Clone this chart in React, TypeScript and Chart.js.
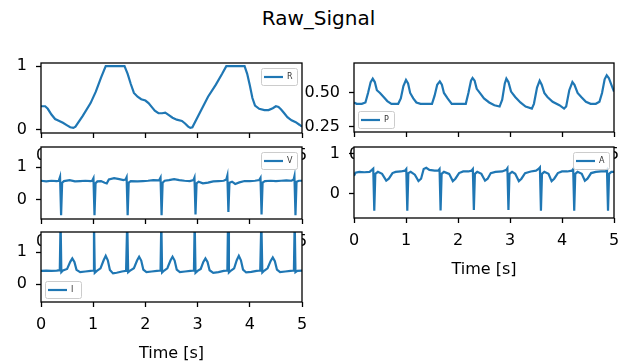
import React, { useEffect, useRef } from 'react';
import { Chart, registerables } from 'chart.js';

Chart.register(...registerables);
Chart.defaults.font.family = '"DejaVu Sans", sans-serif';

const FIG_W = 628;
const FIG_H = 363;
const LINE_COLOR = '#1f77b4';

const titleText = 'Raw_Signal';
const xLabel = 'Time [s]';
const xTicks = [0, 1, 2, 3, 4, 5];

// R signal
const rTime = [0.0, 0.08, 0.13, 0.2, 0.27, 0.35, 0.42, 0.5, 0.56, 0.62, 0.66, 0.8, 0.95, 1.05, 1.15, 1.24, 1.6, 1.66, 1.72, 1.78, 1.85, 1.92, 2.0, 2.06, 2.12, 2.18, 2.25, 2.32, 2.38, 2.45, 2.52, 2.6, 2.7, 2.76, 2.82, 2.86, 2.9, 3.05, 3.2, 3.35, 3.47, 3.55, 3.9, 3.95, 4.0, 4.05, 4.1, 4.18, 4.28, 4.36, 4.44, 4.5, 4.55, 4.6, 4.66, 4.72, 4.8, 4.88, 4.95, 5.0];
const rValue = [0.37, 0.37, 0.33, 0.24, 0.17, 0.14, 0.11, 0.07, 0.04, 0.03, 0.05, 0.22, 0.42, 0.6, 0.82, 1.0, 1.0, 0.88, 0.72, 0.58, 0.52, 0.48, 0.46, 0.42, 0.36, 0.3, 0.26, 0.26, 0.27, 0.23, 0.19, 0.16, 0.14, 0.1, 0.05, 0.03, 0.04, 0.28, 0.52, 0.71, 0.88, 1.0, 1.0, 0.88, 0.7, 0.5, 0.38, 0.33, 0.31, 0.31, 0.34, 0.37, 0.36, 0.32, 0.26, 0.2, 0.15, 0.12, 0.08, 0.05];

// P signal
const pTime = [0.0, 0.05, 0.15, 0.22, 0.27, 0.32, 0.36, 0.4, 0.44, 0.5, 0.57, 0.64, 0.72, 0.85, 0.9, 0.95, 1.0, 1.04, 1.08, 1.14, 1.2, 1.28, 1.5, 1.55, 1.6, 1.65, 1.69, 1.73, 1.8, 1.88, 2.0, 2.15, 2.2, 2.25, 2.28, 2.32, 2.36, 2.42, 2.5, 2.6, 2.7, 2.8, 2.85, 2.9, 2.93, 2.97, 3.02, 3.1, 3.2, 3.3, 3.42, 3.46, 3.52, 3.57, 3.61, 3.66, 3.72, 3.82, 3.95, 4.04, 4.08, 4.14, 4.2, 4.24, 4.3, 4.37, 4.46, 4.55, 4.65, 4.72, 4.77, 4.82, 4.86, 4.9, 4.95, 5.0];
const pValue = [0.43, 0.42, 0.42, 0.43, 0.5, 0.58, 0.605, 0.58, 0.52, 0.5, 0.47, 0.44, 0.42, 0.42, 0.46, 0.55, 0.595, 0.57, 0.5, 0.46, 0.43, 0.42, 0.42, 0.48, 0.56, 0.585, 0.56, 0.5, 0.46, 0.42, 0.42, 0.42, 0.5, 0.59, 0.61, 0.59, 0.53, 0.5, 0.46, 0.43, 0.41, 0.4, 0.45, 0.57, 0.605, 0.58, 0.51, 0.47, 0.43, 0.4, 0.385, 0.42, 0.54, 0.59, 0.56, 0.5, 0.47, 0.435, 0.41, 0.385, 0.4, 0.52, 0.58, 0.56, 0.5, 0.47, 0.435, 0.42, 0.42, 0.435, 0.5, 0.6, 0.63, 0.61, 0.56, 0.51];

// V signal
const vTime = [0.0, 0.1, 0.2, 0.3, 0.34, 0.365, 0.385, 0.405, 0.44, 0.55, 0.65, 0.75, 0.85, 0.95, 0.98, 1.005, 1.025, 1.045, 1.08, 1.15, 1.22, 1.26, 1.3, 1.4, 1.5, 1.58, 1.62, 1.64, 1.66, 1.68, 1.72, 1.85, 1.95, 2.05, 2.15, 2.26, 2.29, 2.31, 2.33, 2.37, 2.45, 2.55, 2.65, 2.75, 2.85, 2.92, 2.94, 2.96, 2.98, 3.02, 3.1, 3.2, 3.3, 3.4, 3.5, 3.55, 3.57, 3.59, 3.61, 3.66, 3.72, 3.8, 3.9, 4.0, 4.1, 4.18, 4.205, 4.225, 4.245, 4.29, 4.4, 4.5, 4.6, 4.7, 4.8, 4.84, 4.855, 4.875, 4.895, 4.94, 5.0];
const vValue = [0.58, 0.56, 0.58, 0.57, 0.58, 0.7, -0.48, 0.52, 0.57, 0.6, 0.56, 0.57, 0.58, 0.57, 0.58, 0.66, -0.48, 0.5, 0.56, 0.57, 0.52, 0.5, 0.62, 0.66, 0.63, 0.6, 0.62, 0.69, -0.48, 0.52, 0.57, 0.56, 0.57, 0.58, 0.6, 0.59, 0.68, -0.48, 0.52, 0.58, 0.6, 0.63, 0.6, 0.58, 0.57, 0.6, 0.68, -0.46, 0.5, 0.55, 0.5, 0.52, 0.56, 0.57, 0.58, 0.62, 0.74, -0.38, 0.52, 0.55, 0.48, 0.53, 0.57, 0.57, 0.58, 0.6, 0.67, -0.46, 0.52, 0.57, 0.58, 0.57, 0.58, 0.59, 0.58, 0.62, 0.72, -0.48, 0.55, 0.58, 0.58];

// A signal
const aTime = [0.0, 0.03, 0.1, 0.2, 0.3, 0.345, 0.37, 0.39, 0.41, 0.46, 0.54, 0.62, 0.67, 0.74, 0.8, 0.9, 0.98, 1.005, 1.025, 1.045, 1.09, 1.17, 1.24, 1.29, 1.34, 1.39, 1.45, 1.55, 1.62, 1.645, 1.665, 1.685, 1.73, 1.83, 1.9, 1.95, 2.02, 2.1, 2.2, 2.26, 2.285, 2.305, 2.325, 2.37, 2.45, 2.52, 2.57, 2.63, 2.72, 2.85, 2.93, 2.95, 2.97, 2.99, 3.04, 3.1, 3.17, 3.22, 3.29, 3.4, 3.5, 3.555, 3.575, 3.595, 3.615, 3.66, 3.74, 3.8, 3.85, 3.92, 4.0, 4.1, 4.19, 4.215, 4.235, 4.255, 4.3, 4.38, 4.44, 4.49, 4.56, 4.65, 4.75, 4.84, 4.865, 4.885, 4.905, 4.95, 5.0];
const aValue = [0.45, 0.53, 0.55, 0.54, 0.55, 0.6, 0.63, -0.42, 0.5, 0.55, 0.5, 0.33, 0.38, 0.52, 0.55, 0.56, 0.58, 0.62, -0.42, 0.52, 0.55, 0.48, 0.32, 0.38, 0.62, 0.65, 0.6, 0.58, 0.58, 0.62, -0.41, 0.5, 0.55, 0.5, 0.32, 0.38, 0.52, 0.56, 0.56, 0.58, 0.62, -0.4, 0.5, 0.55, 0.5, 0.33, 0.38, 0.52, 0.55, 0.56, 0.6, 0.64, -0.4, 0.5, 0.55, 0.5, 0.32, 0.38, 0.52, 0.56, 0.58, 0.63, 0.66, -0.42, 0.5, 0.55, 0.5, 0.32, 0.38, 0.52, 0.56, 0.56, 0.58, 0.62, -0.42, 0.5, 0.55, 0.5, 0.33, 0.38, 0.52, 0.55, 0.56, 0.56, 0.6, -0.42, 0.5, 0.55, 0.55];

// I signal
const iTime = [0.0, 0.1, 0.2, 0.3, 0.36, 0.375, 0.39, 0.42, 0.5, 0.56, 0.6, 0.64, 0.68, 0.75, 0.85, 0.95, 1.0, 1.015, 1.03, 1.07, 1.14, 1.2, 1.24, 1.28, 1.32, 1.38, 1.45, 1.55, 1.63, 1.652, 1.67, 1.7, 1.78, 1.84, 1.88, 1.92, 1.96, 2.02, 2.12, 2.22, 2.29, 2.305, 2.32, 2.36, 2.42, 2.48, 2.52, 2.56, 2.6, 2.66, 2.76, 2.86, 2.93, 2.944, 2.96, 3.0, 3.06, 3.11, 3.15, 3.19, 3.23, 3.3, 3.4, 3.5, 3.57, 3.583, 3.6, 3.64, 3.7, 3.75, 3.79, 3.83, 3.87, 3.93, 4.03, 4.13, 4.2, 4.221, 4.24, 4.28, 4.34, 4.4, 4.44, 4.48, 4.52, 4.58, 4.68, 4.78, 4.845, 4.86, 4.875, 4.91, 5.0];
const iValue = [0.42, 0.43, 0.42, 0.43, 0.44, 2.0, 0.38, 0.43, 0.48, 0.7, 0.81, 0.7, 0.45, 0.38, 0.4, 0.42, 0.43, 2.0, 0.36, 0.42, 0.5, 0.75, 0.89, 0.75, 0.45, 0.34, 0.36, 0.4, 0.42, 2.0, 0.38, 0.42, 0.5, 0.74, 0.86, 0.74, 0.46, 0.38, 0.4, 0.42, 0.43, 2.0, 0.37, 0.43, 0.5, 0.74, 0.86, 0.74, 0.46, 0.38, 0.4, 0.42, 0.43, 2.0, 0.36, 0.42, 0.48, 0.7, 0.81, 0.7, 0.44, 0.36, 0.38, 0.42, 0.43, 2.0, 0.37, 0.43, 0.5, 0.75, 0.89, 0.75, 0.46, 0.37, 0.39, 0.42, 0.43, 2.0, 0.37, 0.43, 0.5, 0.73, 0.84, 0.72, 0.46, 0.38, 0.4, 0.42, 0.43, 2.0, 0.38, 0.42, 0.43];

type Panel = {
  name: string;
  t: number[];
  v: number[];
  area: { left: number; top: number; right: number; bottom: number };
  yMin: number;
  yMax: number;
  yTicks: number[];
  decimals: number;
  legendLoc: 'ur' | 'll';
  showXTitle: boolean;
};

const panels: Panel[] = [
  { name: 'R', t: rTime, v: rValue, area: { left: 41, top: 63, right: 302, bottom: 133 }, yMin: -0.05, yMax: 1.05, yTicks: [0, 1], decimals: 0, legendLoc: 'ur', showXTitle: false },
  { name: 'P', t: pTime, v: pValue, area: { left: 354, top: 63, right: 614, bottom: 132 }, yMin: 0.213, yMax: 0.72, yTicks: [0.25, 0.5], decimals: 2, legendLoc: 'll', showXTitle: false },
  { name: 'V', t: vTime, v: vValue, area: { left: 41, top: 147, right: 302, bottom: 219 }, yMin: -0.6, yMax: 1.62, yTicks: [0, 1], decimals: 0, legendLoc: 'ur', showXTitle: false },
  { name: 'A', t: aTime, v: aValue, area: { left: 354, top: 147, right: 614, bottom: 218 }, yMin: -0.6, yMax: 1.17, yTicks: [0, 1], decimals: 0, legendLoc: 'ur', showXTitle: true },
  { name: 'I', t: iTime, v: iValue, area: { left: 41, top: 232, right: 302, bottom: 302 }, yMin: -0.55, yMax: 1.63, yTicks: [0, 1], decimals: 0, legendLoc: 'll', showXTitle: true },
];

const X_AXIS_H = 61;

function makeChart(canvas: HTMLCanvasElement, p: Panel) {
  const yAxisW = p.area.left;
  const bgPlugin = {
    id: 'bg' + p.name,
    beforeDraw(chart: any) {
      const { ctx, chartArea: ca } = chart;
      ctx.save();
      ctx.fillStyle = '#ffffff';
      ctx.fillRect(ca.left, ca.top, ca.right - ca.left, ca.bottom - ca.top);
      ctx.restore();
    },
  };
  const framePlugin = {
    id: 'frame' + p.name,
    afterDatasetsDraw(chart: any) {
      const { ctx, chartArea: ca } = chart;
      ctx.save();
      ctx.strokeStyle = '#000000';
      ctx.lineWidth = 1.3;
      ctx.strokeRect(ca.left, ca.top, ca.right - ca.left, ca.bottom - ca.top);
      const bw = 36;
      const bh = 17;
      let bx: number;
      let by: number;
      if (p.legendLoc === 'ur') {
        bx = ca.right - 5 - bw;
        by = ca.top + 5;
      } else {
        bx = ca.left + 4;
        by = ca.bottom - 4 - bh;
      }
      ctx.beginPath();
      (ctx as any).roundRect(bx + 0.5, by + 0.5, bw, bh, 2);
      ctx.fillStyle = 'rgba(255,255,255,0.8)';
      ctx.fill();
      ctx.strokeStyle = '#cccccc';
      ctx.lineWidth = 1;
      ctx.stroke();
      ctx.beginPath();
      ctx.moveTo(bx + 3, by + bh / 2 + 0.5);
      ctx.lineTo(bx + 22, by + bh / 2 + 0.5);
      ctx.strokeStyle = LINE_COLOR;
      ctx.lineWidth = 2.2;
      ctx.stroke();
      ctx.fillStyle = '#333333';
      ctx.font = '8px "DejaVu Sans"';
      ctx.textBaseline = 'middle';
      ctx.textAlign = 'left';
      ctx.fillText(p.name, bx + 26, by + bh / 2 + 0.5);
      ctx.restore();
    },
  };

  const data = p.t.map((t, i) => ({ x: t, y: p.v[i] }));
  const padRight = FIG_W - p.area.right;
  const padTop = p.area.top;
  const padBottom = FIG_H - p.area.bottom - X_AXIS_H;

  return new Chart(canvas, {
    type: 'line',
    data: {
      datasets: [
        {
          label: p.name,
          data,
          borderColor: LINE_COLOR,
          borderWidth: 2.2,
          pointRadius: 0,
          tension: 0,
          fill: false,
          clip: 0,
        } as any,
      ],
    },
    options: {
      animation: false,
      responsive: false,
      maintainAspectRatio: false,
      devicePixelRatio: 1,
      events: [],
      layout: { padding: { left: 0, right: padRight, top: padTop, bottom: padBottom } },
      plugins: { legend: { display: false }, tooltip: { enabled: false }, title: { display: false } },
      scales: {
        x: {
          type: 'linear',
          min: 0,
          max: 5,
          afterBuildTicks: (s: any) => {
            s.ticks = xTicks.map((v) => ({ value: v }));
          },
          afterFit: (s: any) => {
            s.height = X_AXIS_H;
          },
          ticks: {
            color: '#000000',
            font: { size: 16 },
            padding: 8,
            maxRotation: 0,
            autoSkip: false,
            callback: (v: any) => String(v),
          },
          grid: {
            display: true,
            drawOnChartArea: false,
            drawTicks: true,
            tickLength: 5,
            tickColor: '#000000',
            tickWidth: 1.3,
          },
          border: { display: false },
          title: {
            display: p.showXTitle,
            text: xLabel,
            color: '#000000',
            font: { size: 16 },
            padding: 0,
          },
        },
        y: {
          type: 'linear',
          min: p.yMin,
          max: p.yMax,
          afterBuildTicks: (s: any) => {
            s.ticks = p.yTicks.map((v) => ({ value: v }));
          },
          afterFit: (s: any) => {
            s.width = yAxisW;
          },
          ticks: {
            color: '#000000',
            font: { size: 16 },
            padding: 9,
            autoSkip: false,
            callback: (v: any) => Number(v).toFixed(p.decimals),
          },
          grid: {
            display: true,
            drawOnChartArea: false,
            drawTicks: true,
            tickLength: 5,
            tickColor: '#000000',
            tickWidth: 1.3,
          },
          border: { display: false },
        },
      },
    } as any,
    plugins: [bgPlugin, framePlugin],
  });
}

export default function App() {
  const refs = useRef<(HTMLCanvasElement | null)[]>([]);

  useEffect(() => {
    const charts: Chart[] = [];
    panels.forEach((p, i) => {
      const c = refs.current[i];
      if (c) charts.push(makeChart(c, p));
    });
    return () => {
      charts.forEach((c) => c.destroy());
    };
  }, []);

  return (
    <div
      style={{
        position: 'fixed',
        left: 0,
        top: 0,
        width: FIG_W,
        height: FIG_H,
        background: '#ffffff',
        overflow: 'hidden',
      }}
    >
      <div
        style={{
          position: 'absolute',
          left: 0,
          top: 8,
          width: 637,
          textAlign: 'center',
          fontFamily: '"DejaVu Sans", sans-serif',
          fontSize: 20,
          lineHeight: '20px',
          color: '#000000',
        }}
      >
        {titleText}
      </div>
      {panels.map((p, i) => (
        <React.Fragment key={p.name}>
          <div
            style={{
              position: 'absolute',
              left: p.area.left,
              top: p.area.top,
              width: p.area.right - p.area.left,
              height: p.area.bottom - p.area.top,
              background: '#ffffff',
            }}
          />
          <canvas
            ref={(el) => {
              refs.current[i] = el;
            }}
            width={FIG_W}
            height={FIG_H}
            style={{ position: 'absolute', left: 0, top: 0, width: FIG_W, height: FIG_H }}
          />
        </React.Fragment>
      ))}
    </div>
  );
}
